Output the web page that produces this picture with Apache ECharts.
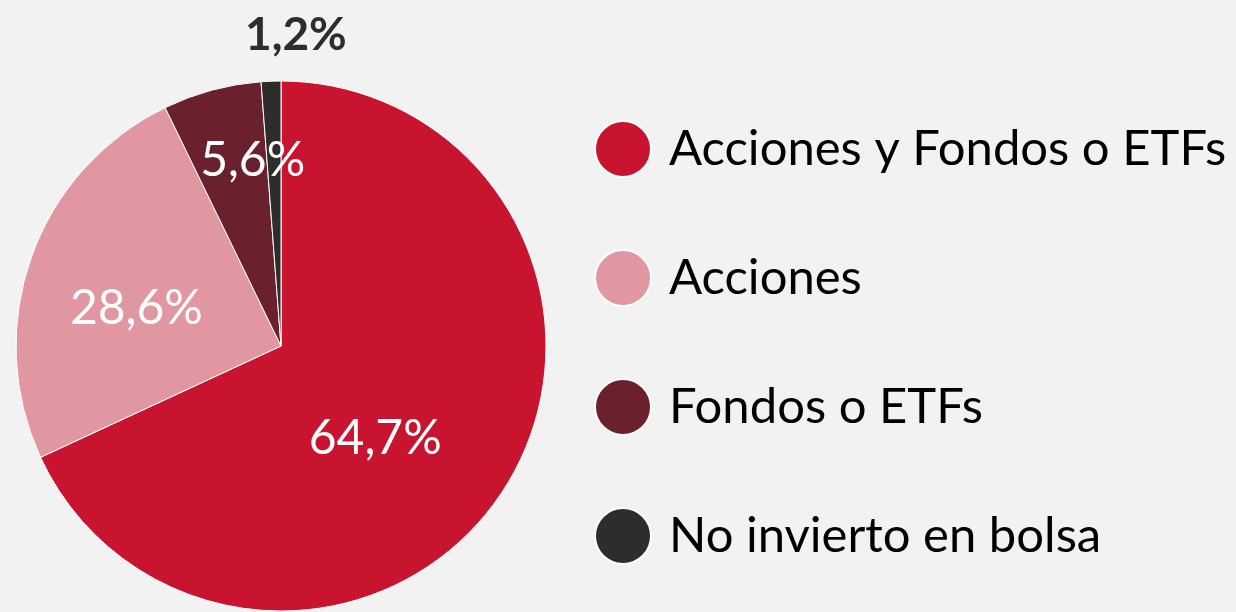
<!DOCTYPE html>
<html>
<head>
<meta charset="utf-8">
<script src="https://cdn.jsdelivr.net/npm/echarts@6/dist/echarts.min.js"></script>
<style>
  html, body { margin: 0; padding: 0; background: #f2f2f2; }
  #chart { width: 1236px; height: 612px; }
</style>
</head>
<body>
<div id="chart"></div>
<script>
// categorias
var categorias = ['Acciones y Fondos o ETFs', 'Acciones', 'Fondos o ETFs', 'No invierto en bolsa'];
// tamaño de cada porción tal como está dibujada (%)
var valores = [68.1, 24.7, 6.0, 1.2];
// textos de las etiquetas
var etiquetas = ['64,7%', '28,6%', '5,6%', '1,2%'];
var colores = ['#c8142f', '#e097a1', '#6b212d', '#2d2d2b'];

// desplazamiento de cada etiqueta
var offsets = [[-20, 20], [-17, 8], [7, -55], [20, -175]];

var datos = [];
for (var i = 0; i < categorias.length; i++) {
	var d = {
		name: categorias[i],
		value: valores[i],
		itemStyle: { color: colores[i] },
		label: { offset: offsets[i] }
	};
	if (i == 3) {
		d.label.color = '#2d2d2b';
		d.label.fontWeight = 'bold';
		d.label.fontSize = 46;
	}
	datos.push(d);
}

var myChart = echarts.init(document.getElementById('chart'));

var option = {
	backgroundColor: '#f2f2f2',
	animation: false,
	legend: {
		orient: 'vertical',
		left: 594,
		top: 120,
		padding: 0,
		itemWidth: 56,
		itemHeight: 60,
		itemGap: 71,
		icon: 'circle',
		data: categorias,
		textStyle: {
			fontFamily: 'Lato',
			fontSize: 49,
			color: '#000',
			padding: [0, 0, 0, 13]
		}
	},
	series: [
		{
			name: 'Inversión',
			type: 'pie',
			center: [281, 346],
			radius: [0, 265],
			startAngle: 90,
			clockwise: true,
			avoidLabelOverlap: false,
			itemStyle: { borderColor: '#ffffff', borderWidth: 1 },
			label: {
				show: true,
				position: 'inside',
				color: '#ffffff',
				fontFamily: 'Lato',
				fontSize: 48,
				formatter: function (p) {
					return etiquetas[p.dataIndex];
				}
			},
			labelLine: { show: false },
			emphasis: { disabled: true },
			data: datos
		}
	]
};

myChart.setOption(option);
</script>
</body>
</html>
